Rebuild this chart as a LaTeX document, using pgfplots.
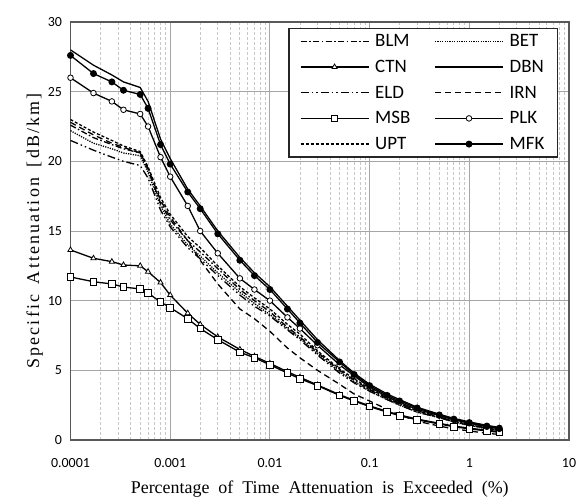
\documentclass[border=0pt]{standalone}
\usepackage{pgfplots}
\pgfplotsset{compat=1.18}
\usepackage{pgfplotstable}
\usepackage{fontspec}
\setmainfont{Liberation Serif}
\newfontfamily\calib{Carlito}

\pgfplotstableread{
x       DBN  MFK  PLK  UPT  BLM  BET  ELD  IRN  CTN   MSB
0.0001  28.0 27.6 26.0 23.0 22.6 22.2 21.5 22.8 13.64 11.7
0.00017 26.9 26.3 24.9 22.1 21.7 21.3 20.8 21.9 13.04 11.36
0.00026 26.2 25.7 24.3 21.5 21.2 20.9 20.3 21.3 12.8  11.2
0.00034 25.7 25.1 23.7 21.1 20.9 20.6 20.0 21.0 12.56 10.98
0.0005  25.3 24.8 23.4 20.7 20.6 20.4 19.7 20.6 12.5  10.84
0.0006  24.3 23.8 22.5 19.6 19.4 19.2 18.8 19.5 12.08 10.55
0.0008  21.6 21.2 20.3 17.4 17.0 16.8 16.5 17.2 11.3  9.9
0.001   20.2 19.8 18.9 16.2 15.8 15.5 15.3 16.0 10.4  9.5
0.0015  18.0 17.8 16.8 14.6 14.3 14.0 13.8 14.3 9.1   8.7
0.002   16.8 16.6 15.0 13.8 13.5 13.2 13.0 12.9 8.3   8.0
0.003   15.0 14.8 13.4 12.5 12.3 12.0 11.8 11.2 7.4   7.2
0.005   13.1 12.9 11.6 11.0 10.8 10.6 10.4 9.4  6.5   6.3
0.007   12.0 11.8 10.8 10.2 10.0 9.8  9.6  8.7  6.0   5.9
0.01    11.0 10.8 10.0 9.4  9.2  9.0  8.9  7.8  5.5   5.4
0.015   9.6  9.4  8.8  8.3  8.1  8.0  7.9  6.6  4.9   4.8
0.02    8.6  8.4  8.0  7.6  7.4  7.3  7.2  5.9  4.5   4.4
0.03    7.2  7.0  6.8  6.4  6.3  6.2  6.1  5.0  3.95  3.9
0.05    5.7  5.6  5.4  5.1  5.0  4.9  4.8  4.0  3.25  3.2
0.07    4.8  4.7  4.6  4.4  4.3  4.2  4.1  3.3  2.85  2.8
0.1     4.0  3.9  3.8  3.7  3.6  3.5  3.5  2.8  2.45  2.4
0.15    3.3  3.2  3.1  3.0  3.0  2.9  2.9  2.2  2.05  2.0
0.2     2.9  2.8  2.7  2.6  2.6  2.5  2.5  1.8  1.8   1.75
0.3     2.35 2.3  2.2  2.1  2.1  2.0  2.0  1.35 1.5   1.45
0.5     1.85 1.8  1.75 1.65 1.65 1.6  1.6  1.0  1.2   1.15
0.7     1.55 1.5  1.45 1.35 1.35 1.3  1.3  0.8  1.0   0.95
1       1.3  1.25 1.2  1.1  1.1  1.05 1.05 0.65 0.85  0.8
1.5     1.05 1.0  0.95 0.85 0.85 0.82 0.82 0.48 0.7   0.65
2       0.9  0.85 0.8  0.7  0.7  0.68 0.68 0.4  0.6   0.55
}\data

\begin{document}
\begin{tikzpicture}
\path[use as bounding box] (0,0) rectangle (580bp,500bp);
\begin{axis}[
  at={(70.5bp,60bp)}, anchor=south west,
  scale only axis, width=498.5bp, height=418bp,
  xmode=log, xmin=1e-4, xmax=10, ymin=0, ymax=30,
  xtick={1e-4,1e-3,1e-2,1e-1,1,10},
  xticklabels={0.0001,0.001,0.01,0.1,1,10},
  ytick={0,5,10,15,20,25,30},
  /pgf/number format/assume math mode=true,
  tick label style={font=\calib\fontsize{14}{16}\selectfont, black},
  xticklabel style={yshift=-15bp},
  yticklabel style={xshift=-5bp},
  major tick length=0pt, minor tick length=0pt,
  xmajorgrids, ymajorgrids, xminorgrids,
  major grid style={draw=black!35, line width=0.9bp},
  minor grid style={draw=black!22, line width=0.8bp, dash pattern=on 2.5bp off 2.5bp},
  axis line style={draw=black!65, line width=1.1bp},
  xlabel={Percentage\ \ of\ \ Time\ \ Attenuation\ \ is\ \ Exceeded\ \ (\%)},
  ylabel={\addfontfeature{LetterSpace=12}Specific\hspace{0.6em}Attenuation\hspace{0.6em}[dB/km]},
  label style={font=\fontsize{18}{20}\selectfont},
  xlabel style={yshift=-6bp},
  ylabel style={yshift=-2bp},
  legend style={at={(0.978,0.986)}, anchor=north east, draw=black!85, line width=1.3bp,
     font=\calib\fontsize{19}{21}\selectfont, inner xsep=11bp, inner ysep=4bp,
     /tikz/every even column/.append style={column sep=22bp},
     /tikz/every odd column/.append style={column sep=4bp},
     row sep=8bp},
  legend columns=2, legend cell align=left,
  legend image code/.code={\draw[mark repeat=2,mark phase=2] plot coordinates {(0bp,0bp) (34bp,0bp) (68bp,0bp)};},
  every axis plot/.append style={line width=1.3bp, black},
]
\addplot[dash pattern=on 6bp off 2.5bp on 1.5bp off 2.5bp] table[x=x,y=BLM]{\data};
\addlegendentry{BLM}
\addplot[dash pattern=on 1.2bp off 1.2bp] table[x=x,y=BET]{\data};
\addlegendentry{BET}
\addplot[mark=triangle*, mark size=3bp, mark options={fill=white, solid, line width=0.8bp}] table[x=x,y=CTN]{\data};
\addlegendentry{CTN}
\addplot[solid] table[x=x,y=DBN]{\data};
\addlegendentry{DBN}
\addplot[dash pattern=on 8bp off 3bp on 1.5bp off 3bp on 1.5bp off 3bp] table[x=x,y=ELD]{\data};
\addlegendentry{ELD}
\addplot[dash pattern=on 6bp off 4bp] table[x=x,y=IRN]{\data};
\addlegendentry{IRN}
\addplot[mark=square*, mark size=3.3bp, mark options={fill=white, solid, line width=0.8bp}] table[x=x,y=MSB]{\data};
\addlegendentry{MSB}
\addplot[mark=*, mark size=2.8bp, mark options={fill=white, solid, line width=0.8bp}] table[x=x,y=PLK]{\data};
\addlegendentry{PLK}
\addplot[dash pattern=on 3bp off 2bp] table[x=x,y=UPT]{\data};
\addlegendentry{UPT}
\addplot[mark=*, mark size=2.8bp, mark options={fill=black, solid}] table[x=x,y=MFK]{\data};
\addlegendentry{MFK}
\end{axis}
\end{tikzpicture}
\end{document}
